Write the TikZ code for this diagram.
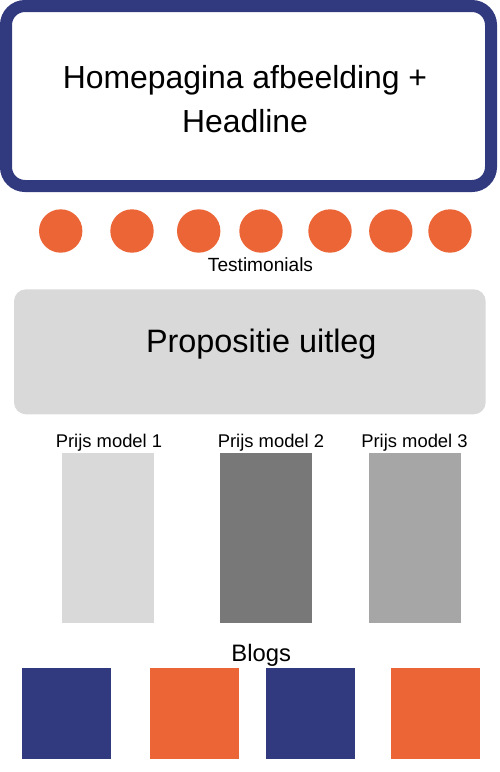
\documentclass[tikz,border=0pt]{standalone}
\usepackage{fontspec}
\setmainfont{Liberation Sans}
\definecolor{navy}{HTML}{31397F}
\definecolor{orng}{HTML}{EC6536}
\definecolor{lgrey}{HTML}{D9D9D9}
\definecolor{dgrey}{HTML}{787878}
\definecolor{mgrey}{HTML}{A6A6A6}
\begin{document}
\begin{tikzpicture}[x=1pt,y=-1pt,
  dot/.style={circle,fill=orng,inner sep=0pt,minimum size=43.4pt},
  lbl/.style={inner sep=0pt,anchor=base,text=black},
  blog/.style={inner sep=0pt,minimum width=89pt,minimum height=90.4pt}]
\useasboundingbox (0,0) rectangle (500,772);
% top box
\draw[navy,line width=12pt,rounded corners=19pt,fill=white] (6,6) rectangle (491,186);
\node[lbl,font=\fontsize{31.9}{37}\selectfont] (h1) at (245,88) {Homepagina afbeelding +};
\node[lbl,font=\fontsize{31.9}{37}\selectfont] (h2) at (245,132) {Headline};
% testimonials
\foreach \x [count=\i] in {60.7,132,198.7,261,330,390.8,450}
  \node[dot] (t\i) at (\x,231) {};
\node[lbl,font=\fontsize{19.1}{22}\selectfont] (testi) at (260.5,271.7) {Testimonials};
% propositie
\node[fill=lgrey,rounded corners=12pt,inner sep=0pt,minimum width=471.7pt,minimum height=125pt] (prop) at (249.85,351.8) {};
\node[lbl,font=\fontsize{32.4}{38}\selectfont] (propt) at (261.3,352.3) {Propositie uitleg};
% pricing
\node[lbl,font=\fontsize{18.4}{22}\selectfont] (p1l) at (109,447.3) {Prijs model 1};
\node[lbl,font=\fontsize{18.4}{22}\selectfont] (p2l) at (271,447.3) {Prijs model 2};
\node[lbl,font=\fontsize{18.4}{22}\selectfont] (p3l) at (414.5,447.3) {Prijs model 3};
\node[fill=lgrey,inner sep=0pt,minimum width=91.7pt,minimum height=169.7pt] (p1) at (107.85,537.85) {};
\node[fill=dgrey,inner sep=0pt,minimum width=92.3pt,minimum height=169.7pt] (p2) at (266.15,537.85) {};
\node[fill=mgrey,inner sep=0pt,minimum width=92pt,minimum height=169.7pt] (p3) at (415,537.85) {};
% blogs
\node[lbl,font=\fontsize{23.8}{28}\selectfont] (blogs) at (261.2,661.7) {Blogs};
\node[blog,fill=navy] (b1) at (66.8,713.5) {};
\node[blog,fill=orng] (b2) at (194.5,713.5) {};
\node[blog,fill=navy] (b3) at (310.8,713.5) {};
\node[blog,fill=orng] (b4) at (435.2,713.5) {};
\end{tikzpicture}
\end{document}
